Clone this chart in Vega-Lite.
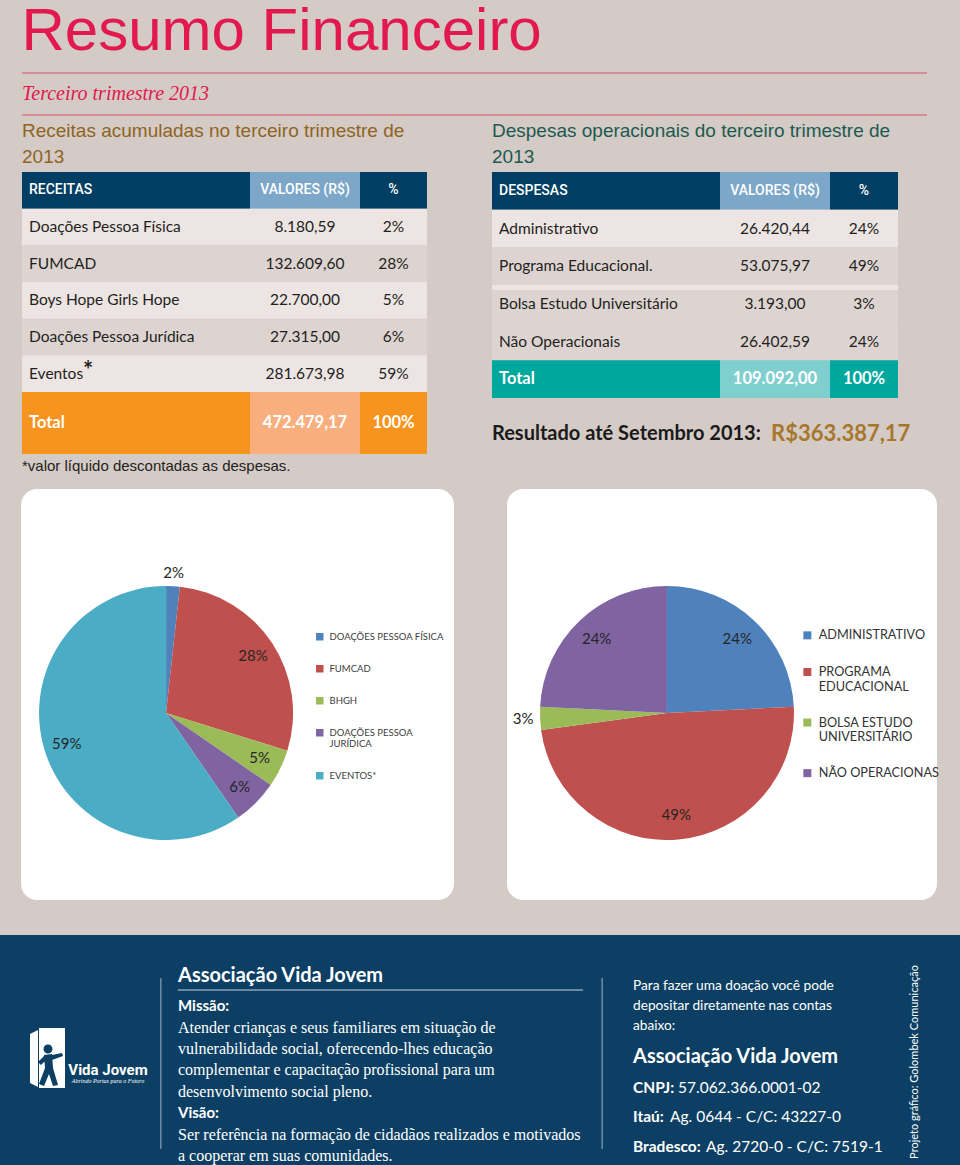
{
  "$schema": "https://vega.github.io/schema/vega-lite/v6.json",
  "background": "#d4cac6",
  "padding": {"left": 0, "right": 0, "top": 1, "bottom": 0},
  "config": {
    "view": {"stroke": null},
    "locale": {"number": {"decimal": ",", "thousands": ".", "grouping": [3], "currency": ["R$", ""]}},
    "title": {"anchor": "start", "fontWeight": "normal", "font": "Liberation Sans"}
  },
  "datasets": {
    "receitas": [
      {"n": 1, "item": "Doações Pessoa Física", "legend": "DOAÇÕES PESSOA FÍSICA", "value": 8180.59, "share": 0.02},
      {"n": 2, "item": "FUMCAD", "legend": "FUMCAD", "value": 132609.60, "share": 0.28},
      {"n": 3, "item": "Boys Hope Girls Hope", "legend": "BHGH", "value": 22700.00, "share": 0.05},
      {"n": 4, "item": "Doações Pessoa Jurídica", "legend": "DOAÇÕES PESSOA JURÍDICA", "value": 27315.00, "share": 0.06},
      {"n": 5, "item": "Eventos", "note": "*", "legend": "EVENTOS*", "value": 281673.98, "share": 0.59}
    ],
    "receitas_total": [{"n": 6, "item": "Total", "value": 472479.17, "share": 1}],
    "despesas": [
      {"n": 1, "item": "Administrativo", "legend": "ADMINISTRATIVO", "value": 26420.44, "share": 0.24},
      {"n": 2, "item": "Programa Educacional.", "legend": "PROGRAMA EDUCACIONAL", "value": 53075.97, "share": 0.49},
      {"n": 3, "item": "Bolsa Estudo Universitário", "legend": "BOLSA ESTUDO UNIVERSITÁRIO", "value": 3193.00, "share": 0.03},
      {"n": 4, "item": "Não Operacionais", "legend": "NÃO OPERACIONAS", "value": 26402.59, "share": 0.24}
    ],
    "despesas_total": [{"n": 5, "item": "Total", "value": 109092.00, "share": 1}],
    "footer_mid": [
      {"line": 0, "role": "heading", "text": "Associação Vida Jovem"},
      {"line": 1, "role": "label", "text": "Missão:"},
      {"line": 2, "role": "body", "text": "Atender crianças e seus familiares em situação de"},
      {"line": 3, "role": "body", "text": "vulnerabilidade social, oferecendo-lhes educação"},
      {"line": 4, "role": "body", "text": "complementar e capacitação profissional para um"},
      {"line": 5, "role": "body", "text": "desenvolvimento social pleno."},
      {"line": 6, "role": "label", "text": "Visão:"},
      {"line": 7, "role": "body", "text": "Ser referência na formação de cidadãos realizados e motivados"},
      {"line": 8, "role": "body", "text": "a cooperar em suas comunidades."}
    ],
    "footer_right": [
      {"line": 0, "role": "intro", "text": "Para fazer uma doação você pode\ndepositar diretamente nas contas\nabaixo:"},
      {"line": 1, "role": "heading", "text": "Associação Vida Jovem"},
      {"line": 2, "role": "account", "label": "CNPJ:", "text": "57.062.366.0001-02"},
      {"line": 3, "role": "account", "label": "Itaú:", "text": "Ag. 0644 - C/C: 43227-0"},
      {"line": 4, "role": "account", "label": "Bradesco:", "text": "Ag. 2720-0 - C/C: 7519-1"}
    ]
  },
  "vconcat": [
    {
      "vconcat": [
        {
          "width": 916, "height": 42,
          "title": {"text": "Resumo Financeiro", "fontSize": 60, "color": "#e2184e", "offset": -37, "baseline": "alphabetic", "font": "Liberation Sans"},
          "layer": [
            {
              "data": {"values": [{"part": "top"}, {"part": "bottom"}]},
              "mark": {"type": "rule", "color": "#d4506e", "strokeWidth": 1},
              "encoding": {
                "y": {"field": "part", "type": "ordinal", "scale": {"type": "point", "domain": ["top", "mid", "bottom"], "padding": 0}, "axis": null},
                "x": {"datum": 0, "type": "quantitative", "scale": {"domain": [0, 1]}, "axis": null},
                "x2": {"datum": 0.988}
              }
            },
            {
              "data": {"values": [{"part": "mid", "text": "Terceiro trimestre 2013"}]},
              "mark": {"type": "text", "align": "left", "baseline": "middle", "font": "Liberation Serif", "fontStyle": "italic", "fontSize": 20, "color": "#e2184e"},
              "encoding": {
                "y": {"field": "part", "type": "ordinal", "scale": {"type": "point", "domain": ["top", "mid", "bottom"], "padding": 0}, "axis": null},
                "x": {"datum": 0, "type": "quantitative", "scale": {"domain": [0, 1]}, "axis": null},
                "text": {"field": "text"}
              }
            }
          ]
        },
        {
          "hconcat": [
            {
              "title": {"text": ["Receitas acumuladas no terceiro trimestre de", "2013"], "fontSize": 19, "color": "#8f6422", "lineHeight": 26, "baseline": "bottom", "offset": -14},
              "spacing": 0,
              "vconcat": [
                {
                  "spacing": 0,
                  "hconcat": [
                    {
                      "width": 228, "height": 220,
                      "layer": [
                        {"data": {"values": [{"n": 0, "h": "RECEITAS"}]},
                         "layer": [
                           {"mark": {"type": "rect", "color": "#003e63"}, "encoding": {"y": {"field": "n", "type": "ordinal", "axis": null, "scale": {"paddingInner": 0, "paddingOuter": 0}}, "x": {"datum": 0, "type": "quantitative", "scale": {"domain": [0, 1]}, "axis": null}, "x2": {"datum": 1}}},
                           {"mark": {"type": "text", "align": "left", "dx": 7, "font": "Roboto", "fontSize": 14, "fontWeight": 500, "color": "#ffffff"}, "encoding": {"y": {"field": "n", "type": "ordinal", "axis": null, "scale": {"paddingInner": 0, "paddingOuter": 0}}, "x": {"datum": 0, "type": "quantitative", "scale": {"domain": [0, 1]}, "axis": null}, "text": {"field": "h"}}}
                         ]},
                        {"data": {"name": "receitas"},
                         "layer": [
                           {"mark": {"type": "rect"}, "encoding": {"y": {"field": "n", "type": "ordinal", "axis": null, "scale": {"paddingInner": 0, "paddingOuter": 0}}, "x": {"datum": 0, "type": "quantitative", "scale": {"domain": [0, 1]}, "axis": null}, "x2": {"datum": 1}, "color": {"condition": {"test": "datum.n % 2 == 1", "value": "#ece5e3"}, "value": "#ddd4d1"}}},
                           {"mark": {"type": "text", "align": "left", "dx": 7, "font": "Lato", "fontSize": 15.5, "color": "#231f20"}, "encoding": {"y": {"field": "n", "type": "ordinal", "axis": null, "scale": {"paddingInner": 0, "paddingOuter": 0}}, "x": {"datum": 0, "type": "quantitative", "scale": {"domain": [0, 1]}, "axis": null}, "text": {"field": "item"}}},
                           {"transform": [{"filter": "isValid(datum.note)"}], "mark": {"type": "text", "align": "left", "dx": 61, "dy": -2, "font": "Lato", "fontSize": 24, "fontWeight": "bold", "color": "#231f20"}, "encoding": {"y": {"field": "n", "type": "ordinal", "axis": null, "scale": {"paddingInner": 0, "paddingOuter": 0}}, "x": {"datum": 0, "type": "quantitative", "scale": {"domain": [0, 1]}, "axis": null}, "text": {"field": "note"}}}
                         ]}
                      ]
                    },
                    {
                      "width": 110, "height": 220,
                      "layer": [
                        {"data": {"values": [{"n": 0, "h": "VALORES (R$)"}]},
                         "layer": [
                           {"mark": {"type": "rect", "color": "#7ca7c9"}, "encoding": {"y": {"field": "n", "type": "ordinal", "axis": null, "scale": {"paddingInner": 0, "paddingOuter": 0}}, "x": {"datum": 0, "type": "quantitative", "scale": {"domain": [0, 1]}, "axis": null}, "x2": {"datum": 1}}},
                           {"mark": {"type": "text", "align": "center", "font": "Roboto", "fontSize": 14, "fontWeight": 500, "color": "#ffffff"}, "encoding": {"y": {"field": "n", "type": "ordinal", "axis": null, "scale": {"paddingInner": 0, "paddingOuter": 0}}, "x": {"datum": 0.5, "type": "quantitative", "scale": {"domain": [0, 1]}, "axis": null}, "text": {"field": "h"}}}
                         ]},
                        {"data": {"name": "receitas"},
                         "layer": [
                           {"mark": {"type": "rect"}, "encoding": {"y": {"field": "n", "type": "ordinal", "axis": null, "scale": {"paddingInner": 0, "paddingOuter": 0}}, "x": {"datum": 0, "type": "quantitative", "scale": {"domain": [0, 1]}, "axis": null}, "x2": {"datum": 1}, "color": {"condition": {"test": "datum.n % 2 == 1", "value": "#ece5e3"}, "value": "#ddd4d1"}}},
                           {"mark": {"type": "text", "align": "center", "font": "Lato", "fontSize": 15.5, "color": "#231f20"}, "encoding": {"y": {"field": "n", "type": "ordinal", "axis": null, "scale": {"paddingInner": 0, "paddingOuter": 0}}, "x": {"datum": 0.5, "type": "quantitative", "scale": {"domain": [0, 1]}, "axis": null}, "text": {"field": "value", "type": "quantitative", "format": ",.2f"}}}
                         ]}
                      ]
                    },
                    {
                      "width": 67, "height": 220,
                      "layer": [
                        {"data": {"values": [{"n": 0, "h": "%"}]},
                         "layer": [
                           {"mark": {"type": "rect", "color": "#003e63"}, "encoding": {"y": {"field": "n", "type": "ordinal", "axis": null, "scale": {"paddingInner": 0, "paddingOuter": 0}}, "x": {"datum": 0, "type": "quantitative", "scale": {"domain": [0, 1]}, "axis": null}, "x2": {"datum": 1}}},
                           {"mark": {"type": "text", "align": "center", "font": "Roboto", "fontSize": 14, "fontWeight": 500, "color": "#ffffff"}, "encoding": {"y": {"field": "n", "type": "ordinal", "axis": null, "scale": {"paddingInner": 0, "paddingOuter": 0}}, "x": {"datum": 0.5, "type": "quantitative", "scale": {"domain": [0, 1]}, "axis": null}, "text": {"field": "h"}}}
                         ]},
                        {"data": {"name": "receitas"},
                         "layer": [
                           {"mark": {"type": "rect"}, "encoding": {"y": {"field": "n", "type": "ordinal", "axis": null, "scale": {"paddingInner": 0, "paddingOuter": 0}}, "x": {"datum": 0, "type": "quantitative", "scale": {"domain": [0, 1]}, "axis": null}, "x2": {"datum": 1}, "color": {"condition": {"test": "datum.n % 2 == 1", "value": "#ece5e3"}, "value": "#ddd4d1"}}},
                           {"mark": {"type": "text", "align": "center", "font": "Lato", "fontSize": 15.5, "color": "#231f20"}, "encoding": {"y": {"field": "n", "type": "ordinal", "axis": null, "scale": {"paddingInner": 0, "paddingOuter": 0}}, "x": {"datum": 0.5, "type": "quantitative", "scale": {"domain": [0, 1]}, "axis": null}, "text": {"field": "share", "type": "quantitative", "format": ".0%"}}}
                         ]}
                      ]
                    }
                  ]
                },
                {
                  "spacing": 0,
                  "title": {"text": "*valor líquido descontadas as despesas.", "orient": "bottom", "fontSize": 15, "color": "#231f20", "baseline": "top", "offset": 5, "font": "Liberation Sans"},
                  "hconcat": [
                    {"width": 228, "height": 62, "data": {"name": "receitas_total"},
                     "layer": [
                       {"mark": {"type": "rect", "color": "#f7941e"}, "encoding": {"y": {"field": "n", "type": "ordinal", "axis": null, "scale": {"paddingInner": 0, "paddingOuter": 0}}, "x": {"datum": 0, "type": "quantitative", "scale": {"domain": [0, 1]}, "axis": null}, "x2": {"datum": 1}}},
                       {"mark": {"type": "text", "align": "left", "dx": 7, "font": "Lato", "fontSize": 16.5, "fontWeight": "bold", "color": "#ffffff"}, "encoding": {"y": {"field": "n", "type": "ordinal", "axis": null, "scale": {"paddingInner": 0, "paddingOuter": 0}}, "x": {"datum": 0, "type": "quantitative", "scale": {"domain": [0, 1]}, "axis": null}, "text": {"field": "item"}}}
                     ]},
                    {"width": 110, "height": 62, "data": {"name": "receitas_total"},
                     "layer": [
                       {"mark": {"type": "rect", "color": "#f9ae7d"}, "encoding": {"y": {"field": "n", "type": "ordinal", "axis": null, "scale": {"paddingInner": 0, "paddingOuter": 0}}, "x": {"datum": 0, "type": "quantitative", "scale": {"domain": [0, 1]}, "axis": null}, "x2": {"datum": 1}}},
                       {"mark": {"type": "text", "align": "center", "font": "Lato", "fontSize": 16.5, "fontWeight": "bold", "color": "#ffffff"}, "encoding": {"y": {"field": "n", "type": "ordinal", "axis": null, "scale": {"paddingInner": 0, "paddingOuter": 0}}, "x": {"datum": 0.5, "type": "quantitative", "scale": {"domain": [0, 1]}, "axis": null}, "text": {"field": "value", "type": "quantitative", "format": ",.2f"}}}
                     ]},
                    {"width": 67, "height": 62, "data": {"name": "receitas_total"},
                     "layer": [
                       {"mark": {"type": "rect", "color": "#f7941e"}, "encoding": {"y": {"field": "n", "type": "ordinal", "axis": null, "scale": {"paddingInner": 0, "paddingOuter": 0}}, "x": {"datum": 0, "type": "quantitative", "scale": {"domain": [0, 1]}, "axis": null}, "x2": {"datum": 1}}},
                       {"mark": {"type": "text", "align": "center", "font": "Lato", "fontSize": 16.5, "fontWeight": "bold", "color": "#ffffff"}, "encoding": {"y": {"field": "n", "type": "ordinal", "axis": null, "scale": {"paddingInner": 0, "paddingOuter": 0}}, "x": {"datum": 0.5, "type": "quantitative", "scale": {"domain": [0, 1]}, "axis": null}, "text": {"field": "share", "type": "quantitative", "format": ".0%"}}}
                     ]}
                  ]
                }
              ]
            },
            {
              "title": {"text": ["Despesas operacionais do terceiro trimestre de", "2013"], "fontSize": 19, "color": "#1d5a50", "lineHeight": 26, "baseline": "bottom", "offset": -14},
              "spacing": 0,
              "vconcat": [
                {
                  "spacing": 0,
                  "hconcat": [
                    {
                      "width": 228, "height": 226,
                      "layer": [
                        {"data": {"values": [{"n": 0, "h": "DESPESAS"}]},
                         "layer": [
                           {"mark": {"type": "rect", "color": "#003e63"}, "encoding": {"y": {"field": "n", "type": "ordinal", "axis": null, "scale": {"paddingInner": 0, "paddingOuter": 0}}, "x": {"datum": 0, "type": "quantitative", "scale": {"domain": [0, 1]}, "axis": null}, "x2": {"datum": 1}}},
                           {"mark": {"type": "text", "align": "left", "dx": 7, "font": "Roboto", "fontSize": 14, "fontWeight": 500, "color": "#ffffff"}, "encoding": {"y": {"field": "n", "type": "ordinal", "axis": null, "scale": {"paddingInner": 0, "paddingOuter": 0}}, "x": {"datum": 0, "type": "quantitative", "scale": {"domain": [0, 1]}, "axis": null}, "text": {"field": "h"}}}
                         ]},
                        {"data": {"name": "despesas"},
                         "layer": [
                           {"mark": {"type": "rect"}, "encoding": {"y": {"field": "n", "type": "ordinal", "axis": null, "scale": {"paddingInner": 0, "paddingOuter": 0}}, "x": {"datum": 0, "type": "quantitative", "scale": {"domain": [0, 1]}, "axis": null}, "x2": {"datum": 1}, "color": {"condition": {"test": "datum.n == 1", "value": "#ece5e3"}, "value": "#ddd4d1"}}},
                           {"transform": [{"filter": "datum.n == 3"}], "mark": {"type": "bar", "color": "#ece5e3", "height": 5, "yOffset": -16.3}, "encoding": {"y": {"field": "n", "type": "ordinal", "axis": null, "scale": {"paddingInner": 0, "paddingOuter": 0}}, "x": {"datum": 0, "type": "quantitative", "scale": {"domain": [0, 1]}, "axis": null}, "x2": {"datum": 1}}},
                           {"mark": {"type": "text", "align": "left", "dx": 7, "font": "Lato", "fontSize": 15.5, "color": "#231f20"}, "encoding": {"y": {"field": "n", "type": "ordinal", "axis": null, "scale": {"paddingInner": 0, "paddingOuter": 0}}, "x": {"datum": 0, "type": "quantitative", "scale": {"domain": [0, 1]}, "axis": null}, "text": {"field": "item"}}}
                         ]},
                        {"data": {"name": "despesas_total"},
                         "layer": [
                           {"mark": {"type": "rect", "color": "#00a79d"}, "encoding": {"y": {"field": "n", "type": "ordinal", "axis": null, "scale": {"paddingInner": 0, "paddingOuter": 0}}, "x": {"datum": 0, "type": "quantitative", "scale": {"domain": [0, 1]}, "axis": null}, "x2": {"datum": 1}}},
                           {"mark": {"type": "text", "align": "left", "dx": 7, "font": "Lato", "fontSize": 16.5, "fontWeight": "bold", "color": "#ffffff"}, "encoding": {"y": {"field": "n", "type": "ordinal", "axis": null, "scale": {"paddingInner": 0, "paddingOuter": 0}}, "x": {"datum": 0, "type": "quantitative", "scale": {"domain": [0, 1]}, "axis": null}, "text": {"field": "item"}}}
                         ]}
                      ]
                    },
                    {
                      "width": 110, "height": 226,
                      "layer": [
                        {"data": {"values": [{"n": 0, "h": "VALORES (R$)"}]},
                         "layer": [
                           {"mark": {"type": "rect", "color": "#7ca7c9"}, "encoding": {"y": {"field": "n", "type": "ordinal", "axis": null, "scale": {"paddingInner": 0, "paddingOuter": 0}}, "x": {"datum": 0, "type": "quantitative", "scale": {"domain": [0, 1]}, "axis": null}, "x2": {"datum": 1}}},
                           {"mark": {"type": "text", "align": "center", "font": "Roboto", "fontSize": 14, "fontWeight": 500, "color": "#ffffff"}, "encoding": {"y": {"field": "n", "type": "ordinal", "axis": null, "scale": {"paddingInner": 0, "paddingOuter": 0}}, "x": {"datum": 0.5, "type": "quantitative", "scale": {"domain": [0, 1]}, "axis": null}, "text": {"field": "h"}}}
                         ]},
                        {"data": {"name": "despesas"},
                         "layer": [
                           {"mark": {"type": "rect"}, "encoding": {"y": {"field": "n", "type": "ordinal", "axis": null, "scale": {"paddingInner": 0, "paddingOuter": 0}}, "x": {"datum": 0, "type": "quantitative", "scale": {"domain": [0, 1]}, "axis": null}, "x2": {"datum": 1}, "color": {"condition": {"test": "datum.n == 1", "value": "#ece5e3"}, "value": "#ddd4d1"}}},
                           {"transform": [{"filter": "datum.n == 3"}], "mark": {"type": "bar", "color": "#ece5e3", "height": 5, "yOffset": -16.3}, "encoding": {"y": {"field": "n", "type": "ordinal", "axis": null, "scale": {"paddingInner": 0, "paddingOuter": 0}}, "x": {"datum": 0, "type": "quantitative", "scale": {"domain": [0, 1]}, "axis": null}, "x2": {"datum": 1}}},
                           {"mark": {"type": "text", "align": "center", "font": "Lato", "fontSize": 15.5, "color": "#231f20"}, "encoding": {"y": {"field": "n", "type": "ordinal", "axis": null, "scale": {"paddingInner": 0, "paddingOuter": 0}}, "x": {"datum": 0.5, "type": "quantitative", "scale": {"domain": [0, 1]}, "axis": null}, "text": {"field": "value", "type": "quantitative", "format": ",.2f"}}}
                         ]},
                        {"data": {"name": "despesas_total"},
                         "layer": [
                           {"mark": {"type": "rect", "color": "#7fcfcf"}, "encoding": {"y": {"field": "n", "type": "ordinal", "axis": null, "scale": {"paddingInner": 0, "paddingOuter": 0}}, "x": {"datum": 0, "type": "quantitative", "scale": {"domain": [0, 1]}, "axis": null}, "x2": {"datum": 1}}},
                           {"mark": {"type": "text", "align": "center", "font": "Lato", "fontSize": 16.5, "fontWeight": "bold", "color": "#ffffff"}, "encoding": {"y": {"field": "n", "type": "ordinal", "axis": null, "scale": {"paddingInner": 0, "paddingOuter": 0}}, "x": {"datum": 0.5, "type": "quantitative", "scale": {"domain": [0, 1]}, "axis": null}, "text": {"field": "value", "type": "quantitative", "format": ",.2f"}}}
                         ]}
                      ]
                    },
                    {
                      "width": 68, "height": 226,
                      "layer": [
                        {"data": {"values": [{"n": 0, "h": "%"}]},
                         "layer": [
                           {"mark": {"type": "rect", "color": "#003e63"}, "encoding": {"y": {"field": "n", "type": "ordinal", "axis": null, "scale": {"paddingInner": 0, "paddingOuter": 0}}, "x": {"datum": 0, "type": "quantitative", "scale": {"domain": [0, 1]}, "axis": null}, "x2": {"datum": 1}}},
                           {"mark": {"type": "text", "align": "center", "font": "Roboto", "fontSize": 14, "fontWeight": 500, "color": "#ffffff"}, "encoding": {"y": {"field": "n", "type": "ordinal", "axis": null, "scale": {"paddingInner": 0, "paddingOuter": 0}}, "x": {"datum": 0.5, "type": "quantitative", "scale": {"domain": [0, 1]}, "axis": null}, "text": {"field": "h"}}}
                         ]},
                        {"data": {"name": "despesas"},
                         "layer": [
                           {"mark": {"type": "rect"}, "encoding": {"y": {"field": "n", "type": "ordinal", "axis": null, "scale": {"paddingInner": 0, "paddingOuter": 0}}, "x": {"datum": 0, "type": "quantitative", "scale": {"domain": [0, 1]}, "axis": null}, "x2": {"datum": 1}, "color": {"condition": {"test": "datum.n == 1", "value": "#ece5e3"}, "value": "#ddd4d1"}}},
                           {"transform": [{"filter": "datum.n == 3"}], "mark": {"type": "bar", "color": "#ece5e3", "height": 5, "yOffset": -16.3}, "encoding": {"y": {"field": "n", "type": "ordinal", "axis": null, "scale": {"paddingInner": 0, "paddingOuter": 0}}, "x": {"datum": 0, "type": "quantitative", "scale": {"domain": [0, 1]}, "axis": null}, "x2": {"datum": 1}}},
                           {"mark": {"type": "text", "align": "center", "font": "Lato", "fontSize": 15.5, "color": "#231f20"}, "encoding": {"y": {"field": "n", "type": "ordinal", "axis": null, "scale": {"paddingInner": 0, "paddingOuter": 0}}, "x": {"datum": 0.5, "type": "quantitative", "scale": {"domain": [0, 1]}, "axis": null}, "text": {"field": "share", "type": "quantitative", "format": ".0%"}}}
                         ]},
                        {"data": {"name": "despesas_total"},
                         "layer": [
                           {"mark": {"type": "rect", "color": "#00a79d"}, "encoding": {"y": {"field": "n", "type": "ordinal", "axis": null, "scale": {"paddingInner": 0, "paddingOuter": 0}}, "x": {"datum": 0, "type": "quantitative", "scale": {"domain": [0, 1]}, "axis": null}, "x2": {"datum": 1}}},
                           {"mark": {"type": "text", "align": "center", "font": "Lato", "fontSize": 16.5, "fontWeight": "bold", "color": "#ffffff"}, "encoding": {"y": {"field": "n", "type": "ordinal", "axis": null, "scale": {"paddingInner": 0, "paddingOuter": 0}}, "x": {"datum": 0.5, "type": "quantitative", "scale": {"domain": [0, 1]}, "axis": null}, "text": {"field": "share", "type": "quantitative", "format": ".0%"}}}
                         ]}
                      ]
                    }
                  ]
                },
                {
                  "width": 446, "height": 56,
                  "data": {"values": [{"label": "Resultado até Setembro 2013:", "value": 363387.17}]},
                  "encoding": {"x": {"datum": 0, "type": "quantitative", "scale": {"domain": [0, 1]}, "axis": null}},
                  "layer": [
                    {"mark": {"type": "text", "align": "left", "baseline": "middle", "dy": 8, "font": "Lato", "fontSize": 20, "fontWeight": "bold", "color": "#1a1a1a"}, "encoding": {"text": {"field": "label"}}},
                    {"mark": {"type": "text", "align": "left", "baseline": "middle", "dy": 8, "dx": 279, "font": "Lato", "fontSize": 22, "fontWeight": "bold", "color": "#a7772c"}, "encoding": {"text": {"field": "value", "type": "quantitative", "format": "$,.2f"}}}
                  ]
                }
              ]
            }
          ],
          "spacing": 65
        }
      ],
      "spacing": 6
    },
    {
      "vconcat": [
        {
          "hconcat": [
            {
              "width": 433, "height": 411,
              "view": {"fill": "#ffffff", "stroke": null, "cornerRadius": 16},
              "data": {"name": "receitas"},
              "encoding": {
                "theta": {"field": "value", "type": "quantitative", "stack": true},
                "order": {"field": "n", "type": "quantitative"},
                "x": {"datum": 0.335, "type": "quantitative", "scale": {"domain": [0, 1]}, "axis": null},
                "y": {"datum": 0.545, "type": "quantitative", "scale": {"domain": [0, 1], "reverse": true}, "axis": null},
                "color": {
                  "field": "legend", "type": "nominal",
                  "scale": {"domain": ["DOAÇÕES PESSOA FÍSICA", "FUMCAD", "BHGH", "DOAÇÕES PESSOA JURÍDICA", "EVENTOS*"], "range": ["#4f81bd", "#c0504d", "#9bbb59", "#8064a2", "#4bacc6"]},
                  "legend": {"orient": "none", "legendX": 294, "legendY": 143, "title": null, "symbolType": "square", "symbolSize": 56, "symbolStrokeWidth": 0, "labelFont": "Lato", "labelFontSize": 9.5, "labelColor": "#404040", "rowPadding": 21, "labelOffset": 5, "labelLimit": 200,
                             "labelExpr": "datum.label == 'DOAÇÕES PESSOA JURÍDICA' ? ['DOAÇÕES PESSOA', 'JURÍDICA'] : datum.label"}
                }
              },
              "layer": [
                {"mark": {"type": "arc", "outerRadius": 127}},
                {"mark": {"type": "text", "radius": 104, "font": "Lato", "fontSize": 15},
                 "encoding": {"color": {"value": "#262626"}, "text": {"condition": {"test": "datum.share >= 0.04", "field": "share", "type": "quantitative", "format": ".0%"}, "value": ""}}},
                {"mark": {"type": "text", "radius": 140, "font": "Lato", "fontSize": 15},
                 "encoding": {"color": {"value": "#262626"}, "text": {"condition": {"test": "datum.share < 0.04", "field": "share", "type": "quantitative", "format": ".0%"}, "value": ""}}}
              ]
            },
            {
              "width": 430, "height": 411,
              "view": {"fill": "#ffffff", "stroke": null, "cornerRadius": 16},
              "data": {"name": "despesas"},
              "encoding": {
                "theta": {"field": "value", "type": "quantitative", "stack": true},
                "order": {"field": "n", "type": "quantitative"},
                "x": {"datum": 0.372, "type": "quantitative", "scale": {"domain": [0, 1]}, "axis": null},
                "y": {"datum": 0.545, "type": "quantitative", "scale": {"domain": [0, 1], "reverse": true}, "axis": null},
                "color": {
                  "field": "legend", "type": "nominal",
                  "scale": {"domain": ["ADMINISTRATIVO", "PROGRAMA EDUCACIONAL", "BOLSA ESTUDO UNIVERSITÁRIO", "NÃO OPERACIONAS"], "range": ["#4f81bd", "#c0504d", "#9bbb59", "#8064a2"]},
                  "legend": {"orient": "none", "legendX": 294, "legendY": 140, "title": null, "symbolType": "square", "symbolSize": 64, "symbolStrokeWidth": 0, "labelFont": "Lato", "labelFontSize": 12.7, "labelColor": "#333333", "rowPadding": 22.6, "labelOffset": 5, "labelLimit": 200,
                             "labelExpr": "datum.label == 'PROGRAMA EDUCACIONAL' ? ['PROGRAMA', 'EDUCACIONAL'] : datum.label == 'BOLSA ESTUDO UNIVERSITÁRIO' ? ['BOLSA ESTUDO', 'UNIVERSITÁRIO'] : datum.label"}
                }
              },
              "layer": [
                {"mark": {"type": "arc", "outerRadius": 127}},
                {"mark": {"type": "text", "radius": 102, "font": "Lato", "fontSize": 15},
                 "encoding": {"color": {"value": "#262626"}, "text": {"condition": {"test": "datum.share >= 0.04", "field": "share", "type": "quantitative", "format": ".0%"}, "value": ""}}},
                {"mark": {"type": "text", "radius": 144, "font": "Lato", "fontSize": 15},
                 "encoding": {"color": {"value": "#262626"}, "text": {"condition": {"test": "datum.share < 0.04", "field": "share", "type": "quantitative", "format": ".0%"}, "value": ""}}}
              ]
            }
          ],
          "spacing": 53,
          "resolve": {"scale": {"color": "independent"}, "legend": {"color": "independent"}}
        },
        {
          "hconcat": [
            {
              "width": 160, "height": 230,
              "view": {"fill": "#0c3f63", "stroke": null},
              "data": {"values": [{"name": "Vida Jovem", "tag": "Abrindo Portas para o Futuro"}]},
              "encoding": {
                "x": {"datum": 0.5, "type": "quantitative", "scale": {"domain": [0, 1]}, "axis": null},
                "y": {"datum": 0.5, "type": "quantitative", "scale": {"domain": [0, 1]}, "axis": null}
              },
              "layer": [
                {"mark": {"type": "point", "shape": "M-50,-16 L-42,-20 L-42,37 L-50,33 Z M-41,-22 L-15,-22 L-15,38 L-41,38 Z", "size": 4, "filled": true, "color": "#ffffff", "opacity": 1, "strokeWidth": 0}},
                {"mark": {"type": "point", "shape": "M-36.5,-1 A4.5,4.5 0 1,0 -27.5,-1 A4.5,4.5 0 1,0 -36.5,-1 Z M-36,5 L-28,4 L-27,18 L-22,35 L-27,36 L-31,24 L-36,36 L-41,34 L-35,18 Z M-42,12 L-36,6 L-28,5 L-18,3 L-17,6 L-28,10 L-35,11 L-39,15 Z", "size": 4, "filled": true, "color": "#0c3f63", "opacity": 1, "strokeWidth": 0}},
                {"mark": {"type": "text", "align": "center", "baseline": "alphabetic", "dx": 28, "dy": 25, "font": "Roboto", "fontSize": 15, "fontWeight": "bold", "color": "#ffffff"}, "encoding": {"text": {"field": "name"}}},
                {"mark": {"type": "text", "align": "center", "baseline": "middle", "dx": 28, "dy": 31, "font": "Liberation Serif", "fontSize": 6, "fontStyle": "italic", "color": "#ffffff"}, "encoding": {"text": {"field": "tag"}}}
              ]
            },
            {
              "width": 443, "height": 230,
              "view": {"fill": "#0c3f63", "stroke": null},
              "data": {"name": "footer_mid"},
              "encoding": {
                "x": {"datum": 0, "type": "quantitative", "scale": {"domain": [0, 1]}, "axis": null},
                "y": {"field": "line", "type": "quantitative", "scale": {"domain": [0, 8], "range": [55, 225.9]}, "axis": null}
              },
              "layer": [
                {"mark": {"type": "rule", "color": "#9fb4c8", "strokeWidth": 1, "yOffset": -12, "y2Offset": -12},
                 "encoding": {"x": {"datum": 0.002}, "y": {"aggregate": "min", "field": "line", "type": "quantitative"}, "y2": {"aggregate": "max", "field": "line"}}},
                {"mark": {"type": "rule", "color": "#9fb4c8", "strokeWidth": 1, "yOffset": -12, "y2Offset": -12},
                 "encoding": {"x": {"datum": 0.998}, "y": {"aggregate": "min", "field": "line", "type": "quantitative"}, "y2": {"aggregate": "max", "field": "line"}}},
                {"transform": [{"filter": "datum.role == 'heading'"}], "mark": {"type": "rule", "color": "#c9d4de", "strokeWidth": 1},
                 "encoding": {"x": {"datum": 0.04}, "x2": {"datum": 0.955}}},
                {"transform": [{"filter": "datum.role == 'heading'"}], "mark": {"type": "text", "align": "left", "baseline": "alphabetic", "dx": 18, "dy": -8, "font": "Lato", "fontSize": 20, "fontWeight": "bold", "color": "#ffffff"}, "encoding": {"text": {"field": "text"}}},
                {"transform": [{"filter": "datum.role == 'label'"}], "mark": {"type": "text", "align": "left", "baseline": "alphabetic", "dx": 18, "font": "Lato", "fontSize": 15, "fontWeight": "bold", "color": "#ffffff"}, "encoding": {"text": {"field": "text"}}},
                {"transform": [{"filter": "datum.role == 'body'"}], "mark": {"type": "text", "align": "left", "baseline": "alphabetic", "dx": 18, "font": "Liberation Serif", "fontSize": 16, "color": "#ffffff"}, "encoding": {"text": {"field": "text"}}}
              ]
            },
            {
              "width": 297, "height": 230,
              "view": {"fill": "#0c3f63", "stroke": null},
              "data": {"name": "footer_right"},
              "encoding": {
                "x": {"datum": 0, "type": "quantitative", "scale": {"domain": [0, 1]}, "axis": null},
                "y": {"field": "line", "type": "quantitative", "scale": {"domain": [0, 4], "range": [98.5, 217]}, "axis": null}
              },
              "layer": [
                {"transform": [{"filter": "datum.role == 'intro'"}], "mark": {"type": "text", "align": "left", "baseline": "alphabetic", "lineBreak": "\n", "lineHeight": 20, "dx": 30, "dy": -43.5, "font": "Lato", "fontSize": 13.7, "color": "#ffffff"}, "encoding": {"text": {"field": "text"}}},
                {"transform": [{"filter": "datum.role == 'heading'"}], "mark": {"type": "text", "align": "left", "baseline": "alphabetic", "dx": 30, "font": "Lato", "fontSize": 20, "fontWeight": "bold", "color": "#ffffff"}, "encoding": {"text": {"field": "text"}}},
                {"transform": [{"filter": "datum.role == 'account'"}], "mark": {"type": "text", "align": "left", "baseline": "alphabetic", "dx": 30, "font": "Lato", "fontSize": 15.5, "fontWeight": "bold", "color": "#ffffff"}, "encoding": {"text": {"field": "label"}}},
                {"transform": [{"filter": "datum.role == 'account'"}], "mark": {"type": "text", "align": "left", "baseline": "alphabetic", "dx": {"expr": "datum.label == 'Bradesco:' ? 103 : datum.label == 'Itaú:' ? 67 : 75"}, "font": "Lato", "fontSize": 15.5, "color": "#ffffff"}, "encoding": {"text": {"field": "text"}}}
              ]
            },
            {
              "width": 60, "height": 230,
              "view": {"fill": "#0c3f63", "stroke": null},
              "data": {"values": [{"text": "Projeto gráfico: Golombek Comunicação"}]},
              "mark": {"type": "text", "angle": 270, "align": "center", "baseline": "middle", "dx": -12, "dy": -15, "font": "Lato", "fontSize": 11, "color": "#ffffff"},
              "encoding": {
                "x": {"datum": 0.5, "type": "quantitative", "scale": {"domain": [0, 1]}, "axis": null},
                "y": {"datum": 0.5, "type": "quantitative", "scale": {"domain": [0, 1]}, "axis": null},
                "text": {"field": "text"}
              }
            }
          ],
          "spacing": 0
        }
      ],
      "spacing": 35, "center": true
    }
  ],
  "spacing": 15, "center": true
}
